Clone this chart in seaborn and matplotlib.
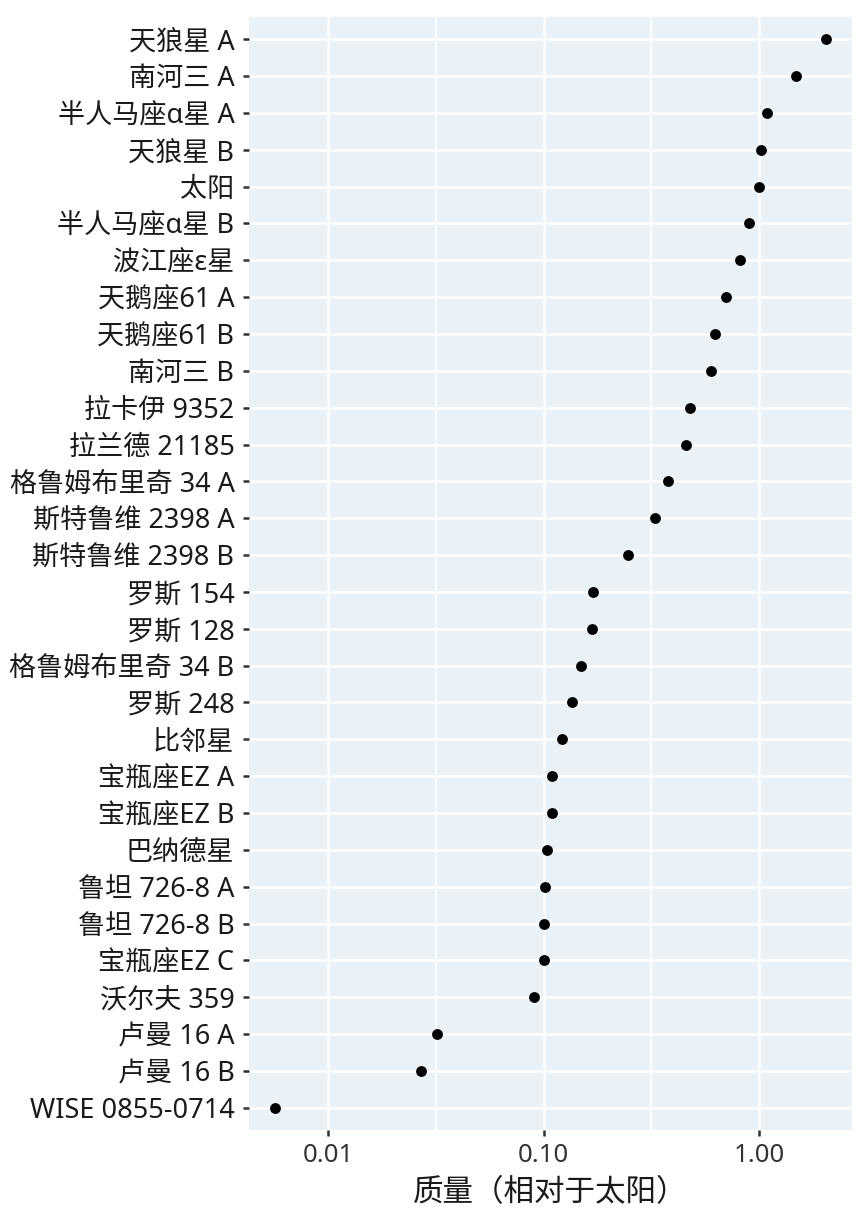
import numpy as np
import pandas as pd
import matplotlib
matplotlib.use("Agg")
import matplotlib.pyplot as plt
import matplotlib.ticker as mticker
import seaborn as sns

# nomi delle stelle (dall'alto verso il basso) e massa in masse solari
stelle = ["天狼星 A", "南河三 A", "半人马座α星 A", "天狼星 B", "太阳",
          "半人马座α星 B", "波江座ε星", "天鹅座61 A", "天鹅座61 B", "南河三 B",
          "拉卡伊 9352", "拉兰德 21185", "格鲁姆布里奇 34 A", "斯特鲁维 2398 A",
          "斯特鲁维 2398 B", "罗斯 154", "罗斯 128", "格鲁姆布里奇 34 B", "罗斯 248",
          "比邻星", "宝瓶座EZ A", "宝瓶座EZ B", "巴纳德星", "鲁坦 726-8 A",
          "鲁坦 726-8 B", "宝瓶座EZ C", "沃尔夫 359", "卢曼 16 A", "卢曼 16 B",
          "WISE 0855-0714"]
massa = [2.05, 1.49, 1.09, 1.02, 1.0,
         0.90, 0.82, 0.70, 0.625, 0.60,
         0.48, 0.46, 0.38, 0.33,
         0.247, 0.169, 0.167, 0.149, 0.136,
         0.122, 0.110, 0.110, 0.104, 0.102,
         0.100, 0.100, 0.090, 0.032, 0.027,
         0.0057]
tick_x = [0.01, 0.1, 1.0]
tick_lab = ["0.01", "0.10", "1.00"]
titolo_x = "质量（相对于太阳）"

df = pd.DataFrame({"stella": stelle, "massa": massa})

sns.set_theme(style="darkgrid")
font = ["Noto Sans", "Noto Sans CJK SC", "DejaVu Sans"]
plt.rcParams["font.family"] = font

fig = plt.figure(figsize=(8.64, 12.10), dpi=100)
ax = fig.add_axes([249 / 864, 1 - 1130 / 1210, (852 - 249) / 864, (1130 - 17) / 1210])
ax.set_facecolor("#EAF2F7")
ax.set_xscale("log")

sns.stripplot(data=df, x="massa", y="stella", order=stelle, jitter=False,
              color="black", size=7.8, linewidth=0, ax=ax, zorder=3)

ax.set_xlim(10 ** -2.367, 10 ** 0.4316)
ax.set_ylim(len(stelle) - 0.4, -0.6)

ax.xaxis.set_major_locator(mticker.FixedLocator(tick_x))
ax.xaxis.set_major_formatter(mticker.FixedFormatter(tick_lab))
ax.xaxis.set_minor_locator(mticker.FixedLocator([10 ** -1.5, 10 ** -0.5]))
ax.xaxis.set_minor_formatter(mticker.NullFormatter())

ax.grid(True, which="major", color="white", linewidth=1.8)
ax.grid(True, which="minor", axis="x", color="white", linewidth=1.3)
ax.set_axisbelow(True)
for s in ax.spines.values():
    s.set_visible(False)

ax.tick_params(axis="both", which="major", left=True, bottom=True,
               length=4.5, width=1.8, color="#333333",
               pad=6, labelsize=19.5, labelcolor="#1a1a1a")
ax.tick_params(axis="x", which="minor", length=0)
ax.tick_params(axis="x", which="major", labelcolor="#333333", labelsize=18.5, pad=5)
for lab in ax.get_yticklabels() + ax.get_xticklabels():
    lab.set_family(font)

ax.set_ylabel("")
ax.set_xlabel(titolo_x, fontsize=22, color="#1a1a1a", labelpad=7, family=font)

fig.savefig("out.png", dpi=100)
